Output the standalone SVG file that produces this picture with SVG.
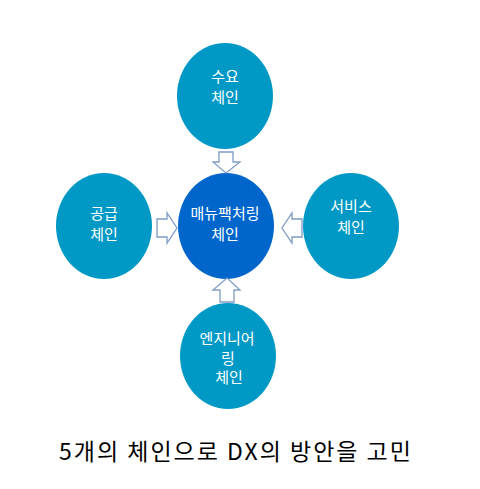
<svg xmlns="http://www.w3.org/2000/svg" width="480" height="489" viewBox="0 0 480 489">
<style>
.n{fill:#0099C6}
.c{fill:#0066CC}
.t{font-family:"Noto Sans CJK KR","Noto Sans",sans-serif;font-size:15px;fill:#fff;text-anchor:middle}
.a{fill:#fff;stroke:#7F9CC4;stroke-width:1.3}
.title{font-family:"Noto Sans CJK KR","Noto Sans",sans-serif;font-size:23px;letter-spacing:2px;fill:#000;text-anchor:middle}
</style>
<rect width="480" height="489" fill="#fff"/>
<g id="demand"><ellipse class="n" cx="225" cy="96" rx="48" ry="53"/><text class="t" x="225" y="82">수요</text><text class="t" x="225" y="103">체인</text></g>
<g id="supply"><ellipse class="n" cx="104" cy="226" rx="48" ry="53"/><text class="t" x="104" y="219">공급</text><text class="t" x="104" y="240">체인</text></g>
<g id="manufacturing"><ellipse class="c" cx="226" cy="226" rx="48" ry="53"/><text class="t" x="225" y="219">매뉴팩처링</text><text class="t" x="225" y="240">체인</text></g>
<g id="service"><ellipse class="n" cx="351" cy="226" rx="48" ry="53"/><text class="t" x="351" y="212">서비스</text><text class="t" x="351" y="233">체인</text></g>
<g id="engineering"><ellipse class="n" cx="228" cy="356" rx="48" ry="53"/><text class="t" x="227" y="344">엔지니어</text><text class="t" x="228" y="363.5">링</text><text class="t" x="229" y="383">체인</text></g>
<g id="connectors">
<path class="a" d="M219,152 H233 V162 H240 L226,173 L213,162 H219 Z"/>
<path class="a" d="M157,219 H167 V213 L177,228 L167,243 V237 H157 Z"/>
<path class="a" d="M302,219 H292 V213 L282,228 L292,243 V237 H302 Z"/>
<path class="a" d="M220,302 H234 V290 H240 L227,278 L213,290 H220 Z"/>
</g>
<text class="title" x="236" y="460">5개의 체인으로 DX의 방안을 고민</text>
</svg>
